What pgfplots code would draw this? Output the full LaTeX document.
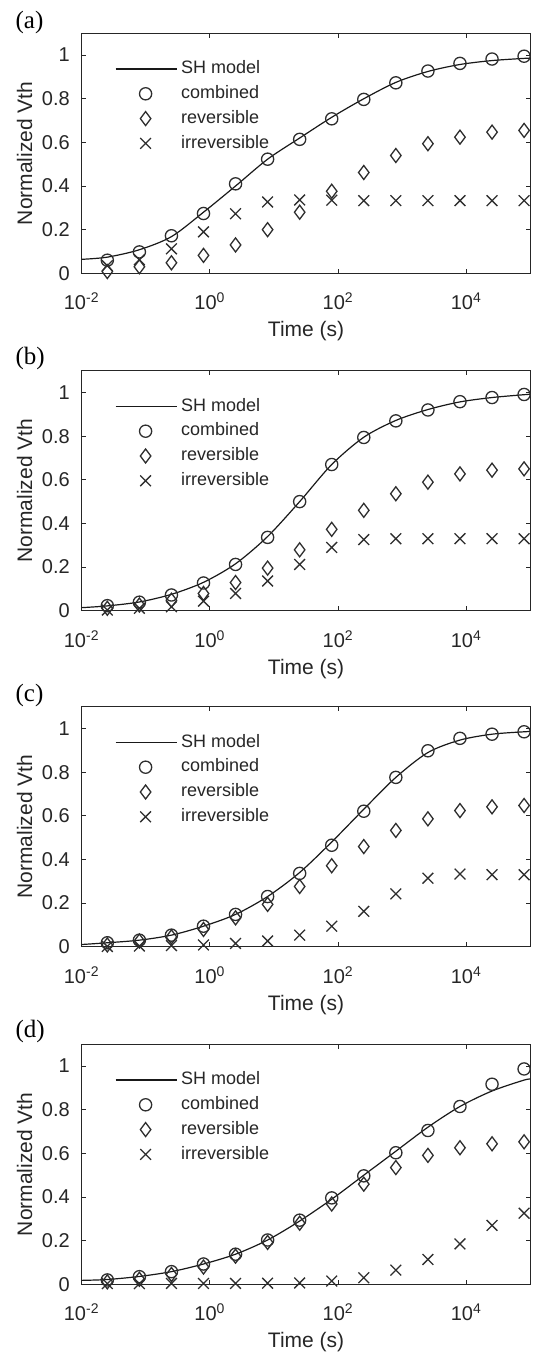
\documentclass[border=0pt]{standalone}
\usepackage{fontspec}
\setmainfont{Liberation Sans}
\newfontfamily\timesfont{Liberation Serif}
\usepackage{pgfplots}
\usepackage{pgfplotstable}
\pgfplotsset{compat=1.18}

\definecolor{axgray}{gray}{0.15}
\definecolor{mkgray}{gray}{0.18}

% measured points: time, combined, reversible, irreversible
\pgfplotstableread{
t comb rev irr
0.0251 0.060 0.008 0.035
0.0794 0.098 0.030 0.062
0.251 0.172 0.048 0.112
0.794 0.274 0.082 0.190
2.51 0.410 0.130 0.273
7.94 0.523 0.200 0.327
25.1 0.614 0.280 0.336
79.4 0.708 0.376 0.335
251 0.797 0.462 0.333
794 0.873 0.540 0.333
2512 0.927 0.594 0.333
7943 0.962 0.624 0.333
25119 0.982 0.647 0.333
79433 0.995 0.655 0.333
}\dataA
\pgfplotstableread{
t comb rev irr
0.0251 0.023 0.011 0.003
0.0794 0.039 0.026 0.011
0.251 0.072 0.048 0.018
0.794 0.127 0.079 0.044
2.51 0.212 0.129 0.079
7.94 0.336 0.195 0.136
25.1 0.500 0.279 0.212
79.4 0.670 0.373 0.290
251 0.794 0.460 0.326
794 0.870 0.536 0.330
2512 0.920 0.589 0.330
7943 0.958 0.627 0.330
25119 0.977 0.644 0.330
79433 0.991 0.650 0.330
}\dataB
\pgfplotstableread{
t comb rev irr
0.0251 0.018 0.008 0.001
0.0794 0.030 0.026 0.003
0.251 0.053 0.045 0.005
0.794 0.094 0.079 0.008
2.51 0.148 0.132 0.015
7.94 0.230 0.194 0.026
25.1 0.336 0.276 0.053
79.4 0.465 0.371 0.094
251 0.621 0.459 0.162
794 0.776 0.533 0.242
2512 0.898 0.586 0.314
7943 0.955 0.624 0.333
25119 0.974 0.641 0.330
79433 0.985 0.647 0.330
}\dataC
\pgfplotstableread{
t comb rev irr
0.0251 0.020 0.011 0.003
0.0794 0.035 0.023 0.003
0.251 0.058 0.045 0.004
0.794 0.093 0.079 0.004
2.51 0.138 0.129 0.004
7.94 0.203 0.192 0.005
25.1 0.294 0.280 0.006
79.4 0.396 0.368 0.015
251 0.497 0.459 0.030
794 0.603 0.535 0.065
2512 0.705 0.591 0.114
7943 0.815 0.626 0.185
25119 0.917 0.644 0.270
79433 0.987 0.653 0.326
}\dataD

% SH model curves
\pgfplotstableread{
t sh
0.01 0.064
0.0251 0.074
0.0794 0.108
0.251 0.168
0.794 0.280
2.51 0.400
7.94 0.523
25.1 0.620
79.4 0.715
251 0.800
794 0.875
2512 0.925
7943 0.957
25119 0.975
79433 0.985
100000 0.986
}\shA
\pgfplotstableread{
t sh
0.01 0.014
0.0251 0.022
0.0794 0.040
0.251 0.075
0.794 0.130
2.51 0.215
7.94 0.340
25.1 0.500
79.4 0.670
251 0.795
794 0.872
2512 0.922
7943 0.957
25119 0.977
79433 0.990
100000 0.992
}\shB
\pgfplotstableread{
t sh
0.01 0.010
0.0251 0.018
0.0794 0.030
0.251 0.053
0.794 0.094
2.51 0.148
7.94 0.230
25.1 0.340
79.4 0.480
251 0.630
794 0.776
2512 0.890
7943 0.947
25119 0.974
79433 0.985
100000 0.986
}\shC
\pgfplotstableread{
t sh
0.01 0.018
0.0251 0.022
0.0794 0.036
0.251 0.058
0.794 0.093
2.51 0.138
7.94 0.203
25.1 0.290
79.4 0.390
251 0.500
794 0.610
2512 0.720
7943 0.815
25119 0.886
79433 0.936
100000 0.940
}\shD

% settings shared by all four panels
\pgfplotsset{
  scale only axis, width=224.4pt, height=120pt,
  xmin=1e-2, xmax=1e5, ymin=0, ymax=1.1,
  xtick={1e-2,1,1e2,1e4},
  xticklabels={10\textsuperscript{-2},10\textsuperscript{0},10\textsuperscript{2},10\textsuperscript{4}},
  ytick={0,0.2,0.4,0.6,0.8,1},
  yticklabels={0,0.2,0.4,0.6,0.8,1},
  xminorticks=false, yminorticks=false,
  tick align=inside, major tick length=2.2pt,
  axis line style={axgray, line width=0.5pt},
  every tick/.append style={axgray, line width=0.5pt},
  tick label style={font=\fontsize{10}{12}\selectfont, text=axgray},
  xticklabel style={anchor=base, yshift=-18.3pt},
  yticklabel style={anchor=east, inner sep=0pt, xshift=-5.8pt},
  every axis label/.append style={font=\fontsize{10.5}{12}\selectfont, text=axgray},
  every axis x label/.style={at={(axis description cs:0.5,-0.264)}, anchor=base},
  every axis y label/.style={at={(axis description cs:-0.127,0.5)}, rotate=90, anchor=center},
  legend cell align=left,
  legend image code/.code={\draw[mark repeat=2,mark phase=2,#1] plot coordinates {(0pt,0pt) (15pt,0pt) (30.5pt,0pt)};},
  legend style={draw=none, fill=none, inner sep=0pt, outer sep=0pt,
    at={(axis description cs:0.0742,1)}, anchor=north west, yshift=-13.6pt,
    row sep=3.9pt, column sep=2pt,
    font=\fontsize{9}{10}\selectfont, text=axgray,
    nodes={inner sep=0pt, text height=6.6pt, text depth=1.9pt}},
}

\begin{document}
\begin{tikzpicture}
\path[use as bounding box] (0pt,0pt) rectangle (266pt,678pt);

% (a)
\node[anchor=base west, inner sep=0pt, font=\timesfont\fontsize{12.5}{14}\selectfont] at (7.6pt,663.9pt) {(a)};
\begin{axis}[xmode=log, at={(40.85pt,541.35pt)}, anchor=south west, xlabel={Time (s)}, ylabel={Normalized Vth}]
\addplot[black!90, line width=0.6pt, smooth, mark=none] table[x=t, y=sh] {\shA};
\addplot[only marks, mark=o, mark size=3.05pt, mkgray, line width=0.65pt] table[x=t, y=comb] {\dataA};
\addplot[only marks, mark=diamond, mark size=3.5pt, mkgray, line width=0.65pt] table[x=t, y=rev] {\dataA};
\addplot[only marks, mark=x, mark size=3.8pt, mkgray, line width=0.65pt] table[x=t, y=irr] {\dataA};
\legend{SH model, combined, reversible, irreversible}
\end{axis}

% (b)
\node[anchor=base west, inner sep=0pt, font=\timesfont\fontsize{12.5}{14}\selectfont] at (7.6pt,495.5pt) {(b)};
\begin{axis}[xmode=log, at={(40.85pt,372.65pt)}, anchor=south west, xlabel={Time (s)}, ylabel={Normalized Vth}]
\addplot[black!90, line width=0.6pt, smooth, mark=none] table[x=t, y=sh] {\shB};
\addplot[only marks, mark=o, mark size=3.05pt, mkgray, line width=0.65pt] table[x=t, y=comb] {\dataB};
\addplot[only marks, mark=diamond, mark size=3.5pt, mkgray, line width=0.65pt] table[x=t, y=rev] {\dataB};
\addplot[only marks, mark=x, mark size=3.8pt, mkgray, line width=0.65pt] table[x=t, y=irr] {\dataB};
\legend{SH model, combined, reversible, irreversible}
\end{axis}

% (c)
\node[anchor=base west, inner sep=0pt, font=\timesfont\fontsize{12.5}{14}\selectfont] at (7.6pt,327.2pt) {(c)};
\begin{axis}[xmode=log, at={(40.85pt,204.65pt)}, anchor=south west, xlabel={Time (s)}, ylabel={Normalized Vth}]
\addplot[black!90, line width=0.6pt, smooth, mark=none] table[x=t, y=sh] {\shC};
\addplot[only marks, mark=o, mark size=3.05pt, mkgray, line width=0.65pt] table[x=t, y=comb] {\dataC};
\addplot[only marks, mark=diamond, mark size=3.5pt, mkgray, line width=0.65pt] table[x=t, y=rev] {\dataC};
\addplot[only marks, mark=x, mark size=3.8pt, mkgray, line width=0.65pt] table[x=t, y=irr] {\dataC};
\legend{SH model, combined, reversible, irreversible}
\end{axis}

% (d)
\node[anchor=base west, inner sep=0pt, font=\timesfont\fontsize{12.5}{14}\selectfont] at (7.6pt,159.2pt) {(d)};
\begin{axis}[xmode=log, at={(40.85pt,35.85pt)}, anchor=south west, xlabel={Time (s)}, ylabel={Normalized Vth}]
\addplot[black!90, line width=0.6pt, smooth, mark=none] table[x=t, y=sh] {\shD};
\addplot[only marks, mark=o, mark size=3.05pt, mkgray, line width=0.65pt] table[x=t, y=comb] {\dataD};
\addplot[only marks, mark=diamond, mark size=3.5pt, mkgray, line width=0.65pt] table[x=t, y=rev] {\dataD};
\addplot[only marks, mark=x, mark size=3.8pt, mkgray, line width=0.65pt] table[x=t, y=irr] {\dataD};
\legend{SH model, combined, reversible, irreversible}
\end{axis}
\end{tikzpicture}
\end{document}
